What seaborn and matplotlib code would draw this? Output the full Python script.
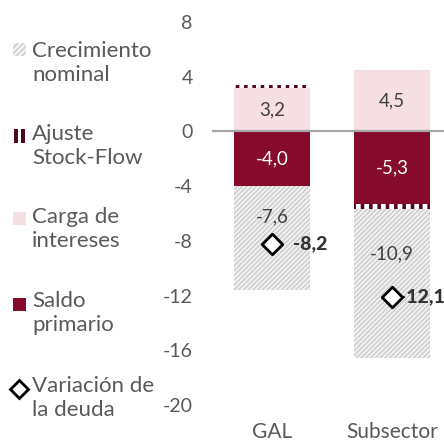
import matplotlib
matplotlib.use("Agg")
import numpy as np
import pandas as pd
import matplotlib.pyplot as plt
import seaborn as sns
from matplotlib.patches import Rectangle
from matplotlib.lines import Line2D

# data
categories = ["GAL", "Subsector"]
carga_intereses = [3.2, 4.5]
saldo_primario = [-4.0, -5.3]
ajuste_stock_flow = [0.2, -0.4]
crecimiento_nominal = [-7.6, -10.9]
variacion_deuda = [-8.2, -12.1]
y_ticks = [8, 4, 0, -4, -8, -12, -16, -20]

PINK = "#f6dfe2"
RED = "#850a2c"
MAROON = "#4f0a20"
HATCH_BG = "#f6f6f6"
HATCH_GRAY = "#d0d0d0"
TXT = "#595959"
FONT = "Lato"

plt.rcParams["font.family"] = [FONT, "DejaVu Sans"]

fig = plt.figure(figsize=(4.44, 4.45), dpi=100)
ax = fig.add_axes([212 / 444, 1 - 405 / 445, 1 - 212 / 444, (405 - 22) / 445])

df = pd.DataFrame({
    "cat": categories,
    "carga": carga_intereses,
    "saldo": saldo_primario,
    "ajuste": ajuste_stock_flow,
    "crec": crecimiento_nominal,
})

# stacking order as in the source chart: positives and negatives stacked apart
layers = [
    ("carga", dict(color=PINK)),
    ("saldo", dict(color=RED)),
    ("ajuste", dict(color="white", edgecolor=MAROON, hatch="||", hatch_lw=2.6)),
    ("crec", dict(color=HATCH_BG, edgecolor=HATCH_GRAY, hatch="///////", hatch_lw=1.3)),
]
pos_base = np.zeros(len(df))
neg_base = np.zeros(len(df))
bottoms = {}
for col, style in layers:
    vals = df[col].to_numpy()
    bottom = np.where(vals >= 0, pos_base, neg_base)
    bottoms[col] = bottom
    style = dict(style)
    hatch_lw = style.pop("hatch_lw", None)
    n_before = len(ax.patches)
    sns.barplot(data=df, x="cat", y=col, bottom=bottom, width=0.63, linewidth=0,
                saturation=1, errorbar=None, ax=ax, **style)
    if hatch_lw is not None:
        for p in ax.patches[n_before:]:
            if hasattr(p, "set_hatch_linewidth"):
                p.set_hatch_linewidth(hatch_lw)
    pos_base = pos_base + np.where(vals >= 0, vals, 0)
    neg_base = neg_base + np.where(vals < 0, vals, 0)

ax.axhline(0, color="#a6a6a6", lw=1.6, zorder=5)


def fmt(v):
    return f"{v:.1f}".replace(".", ",")


for i in range(len(df)):
    v = df.loc[i, "carga"]
    ax.text(i, bottoms["carga"][i] + v / 2, fmt(v), ha="center", va="center",
            color="#404040", fontsize=13.5, zorder=6)
    v = df.loc[i, "saldo"]
    ax.text(i, bottoms["saldo"][i] + v / 2, fmt(v), ha="center", va="center",
            color="white", fontsize=13.5, zorder=6)
    v = df.loc[i, "crec"]
    ax.text(i, bottoms["crec"][i] + v * 0.3, fmt(v), ha="center", va="center",
            color="#404040", fontsize=13.5, zorder=6)

# debt change diamonds
sns.scatterplot(x=categories, y=variacion_deuda, marker="D", s=110, color="white",
                edgecolor="black", linewidth=2.0, zorder=8, ax=ax, legend=False)
ax.set_xlim(-0.5, 1.43)
for i, v in enumerate(variacion_deuda):
    if i < len(variacion_deuda) - 1:
        ax.annotate(fmt(v), (i, v), xytext=(15, 0), textcoords="offset points",
                    ha="left", va="center", fontsize=14, fontweight="black",
                    color="#333333", zorder=7)
    else:
        ax.annotate(fmt(v), (i, v), xytext=(4.5, 0), textcoords="offset points",
                    ha="left", va="center", fontsize=14, fontweight="black",
                    color="#333333", zorder=7, annotation_clip=False)

ax.set_ylim(-20, 8)
ax.set_yticks(y_ticks)
ax.set_yticklabels([str(t) for t in y_ticks])
ax.set_xlabel("")
ax.set_ylabel("")
ax.tick_params(axis="y", length=0, pad=14, labelsize=14, labelcolor=TXT)
ax.tick_params(axis="x", length=0, pad=12, labelsize=15, labelcolor=TXT)
for s in ax.spines.values():
    s.set_visible(False)
ax.patch.set_alpha(0)

# legend drawn at the left, handles next to the first line of each entry
legend_labels = ["Crecimiento\nnominal", "Ajuste\nStock-Flow", "Carga de\nintereses",
                 "Saldo\nprimario", "Variación de\nla deuda"]
label_tops = [41, 124, 207, 291, 376]
H = 445.0
for lab, top in zip(legend_labels, label_tops):
    fig.text(32 / 444, 1 - top / H, lab, ha="left", va="top", fontsize=16,
             color=TXT, linespacing=1.22)


def fr(x, y, w, h, **kw):
    r = Rectangle((x / 444, 1 - (y + h) / H), w / 444, h / H, transform=fig.transFigure,
                  lw=0, **kw)
    fig.add_artist(r)
    return r


r = fr(13, 43, 13, 13, facecolor=HATCH_BG, edgecolor=HATCH_GRAY, hatch="//////")
if hasattr(r, "set_hatch_linewidth"):
    r.set_hatch_linewidth(1.3)
fr(14, 129, 4, 14, facecolor=MAROON)
fr(21, 129, 4, 14, facecolor=MAROON)
fr(13, 212, 13, 13, facecolor=PINK)
fr(13, 298, 13, 13, facecolor=RED)
fig.add_artist(Line2D([19 / 444], [1 - 389 / H], marker="D", markersize=9,
                      markerfacecolor="white", markeredgecolor="black",
                      markeredgewidth=2.0, transform=fig.transFigure))

fig.savefig("out.png", dpi=100)
